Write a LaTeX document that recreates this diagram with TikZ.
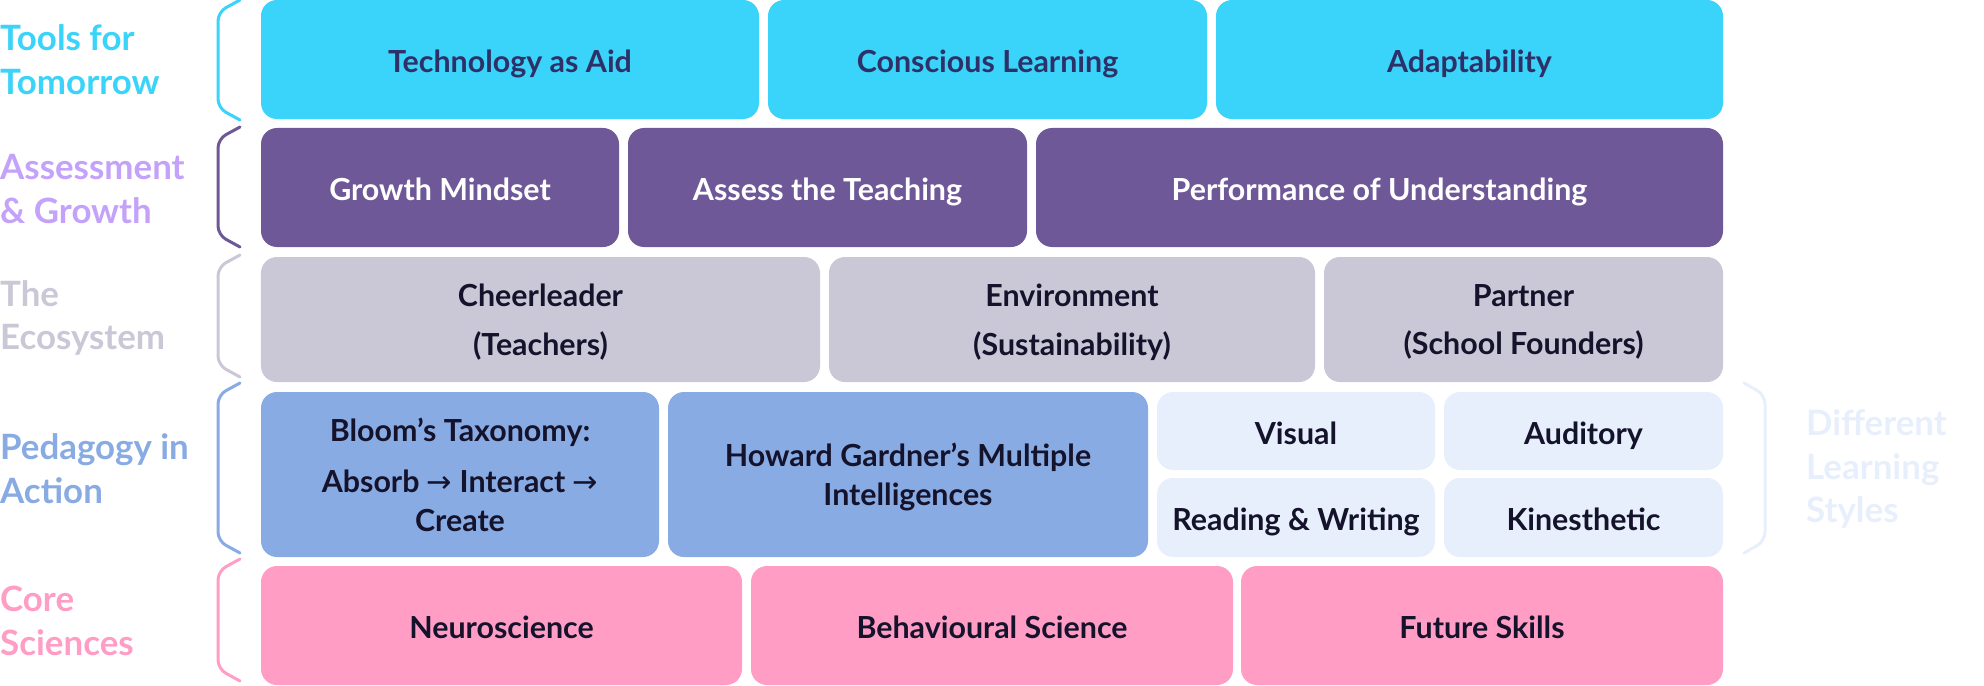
\documentclass[tikz,border=0pt]{standalone}
\usepackage{fontspec}
\setmainfont{Lato}
\newfontfamily\arrowfont{DejaVu Sans}
\usepackage{xcolor}
\usepackage{tikz}
\usetikzlibrary{positioning}
\definecolor{cyanf}{HTML}{3AD3F9}
\definecolor{cyant}{HTML}{2E3168}
\definecolor{purplef}{HTML}{6F5898}
\definecolor{lavender}{HTML}{C4A2FA}
\definecolor{greyf}{HTML}{CAC8D7}
\definecolor{bluef}{HTML}{88ABE3}
\definecolor{palef}{HTML}{E8EFFC}
\definecolor{pinkf}{HTML}{FF9DC4}
\definecolor{inkt}{HTML}{15132C}
\tikzset{
  blk/.style={rectangle, rounded corners=16bp, align=center, inner sep=0pt,
              text height=26bp, text depth=0pt,
              font=\fontsize{30.5}{39}\selectfont\bfseries},
  multi/.style={text height={}},
  cyanb/.style={blk, fill=cyanf, text=cyant},
  purpleb/.style={blk, fill=purplef, text=white},
  greyb/.style={blk, fill=greyf, text=inkt},
  blueb/.style={blk, fill=bluef, text=inkt},
  paleb/.style={blk, fill=palef, text=inkt},
  pinkb/.style={blk, fill=pinkf, text=inkt},
  sz/.style 2 args={minimum width=#1bp, minimum height=#2bp},
  rowlbl/.style={anchor=west, align=left, inner sep=0pt,
                 font=\fontsize{35}{44}\selectfont\bfseries},
  brace/.style={line width=3bp, rounded corners=9bp, line cap=round},
}

\begin{document}
\begin{tikzpicture}[x=1bp, y=-1bp]
  \useasboundingbox (0,0) rectangle (1984,686);
  % tools for tomorrow
  \node[cyanb, sz={498}{119}] (tech) at (510,59.5)    {Technology as Aid};
  \node[cyanb, sz={439}{119}] (consc) at (987.5,59.5) {Conscious Learning};
  \node[cyanb, sz={507}{119}] (adapt) at (1469.5,59.5) {Adaptability};
  % assessment & growth
  \node[purpleb, sz={358}{119}] (growth) at (440,187.5)  {Growth Mindset};
  \node[purpleb, sz={399}{119}] (assess) at (827.5,187.5) {Assess the Teaching};
  \node[purpleb, sz={687}{119}] (perf) at (1379.5,187.5)  {Performance of Understanding};
  % the ecosystem
  \node[greyb, multi, sz={559}{125}] (cheer) at (540.5,319.5) {Cheerleader\\[10bp](Teachers)};
  \node[greyb, multi, sz={486}{125}] (env) at (1072,319.5)    {Environment\\[10bp](Sustainability)};
  \node[greyb, multi, sz={399}{125}] (partner) at (1523.5,319.5) {Partner\\[10bp](School Founders)};
  % pedagogy in action
  \node[blueb, multi, sz={398}{165}] (bloom) at (460,474.5)
    {Bloom’s Taxonomy:\\[12bp]Absorb {\arrowfont\mdseries →} Interact {\arrowfont\mdseries →}\\Create};
  \node[blueb, multi, sz={480}{165}] (gardner) at (908,474.5) {Howard Gardner’s Multiple\\Intelligences};
  \node[paleb, sz={278}{78}] (visual) at (1296,431)    {Visual};
  \node[paleb, sz={279}{78}] (audit) at (1583.5,431)   {Auditory};
  \node[paleb, sz={278}{79}] (readw) at (1296,517.5)   {Reading \& Writing};
  \node[paleb, sz={279}{79}] (kines) at (1583.5,517.5) {Kinesthetic};
  % core sciences
  \node[pinkb, sz={481}{119}] (neuro) at (501.5,625.5) {Neuroscience};
  \node[pinkb, sz={482}{119}] (behav) at (992,625.5)   {Behavioural Science};
  \node[pinkb, sz={482}{119}] (future) at (1482,625.5) {Future Skills};
  % row labels and braces
  \node[rowlbl, text=cyanf] (ltools) at (0,60)      {Tools for\\Tomorrow};
  \node[rowlbl, text=lavender] (lassess) at (0,189) {Assessment\\\& Growth};
  \node[rowlbl, text=greyf] (leco) at (0,318)       {The\\Ecosystem};
  \node[rowlbl, text=bluef] (lped) at (0,469)       {Pedagogy in\\Action};
  \node[rowlbl, text=pinkf] (lcore) at (0,621)      {Core\\Sciences};
  \node[rowlbl, text=palef] (lstyles) at (1806,469) {Different\\Learning\\Styles};
  \foreach \t/\b/\c in {0/120/cyanf, 127/247/purplef, 255/377/greyf, 383/553/bluef, 559/681/pinkf}
    \draw[brace, draw=\c] (240,\t) -- (218,\t+12) -- (218,\b-12) -- (240,\b);
  \draw[brace, draw=palef] (1744,383) -- (1765,395) -- (1765,541) -- (1744,553);
\end{tikzpicture}
\end{document}
